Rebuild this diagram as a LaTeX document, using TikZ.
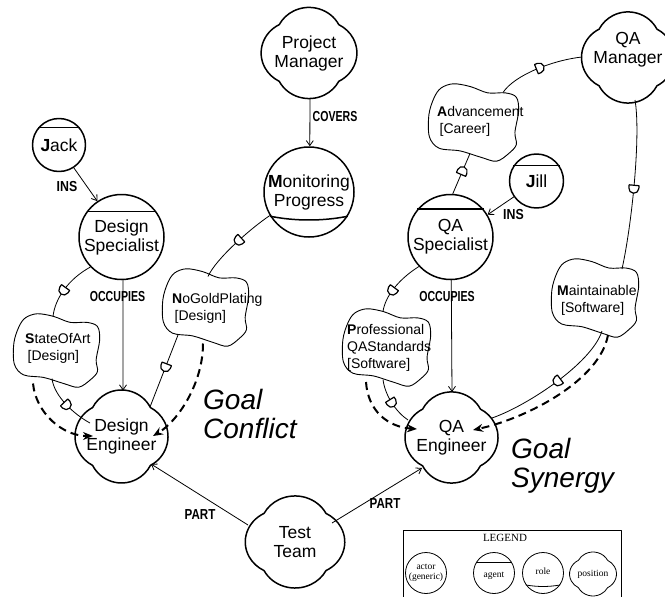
\documentclass[tikz,border=0pt]{standalone}
\usepackage{fontspec}
\setmainfont{Liberation Sans}
\newfontfamily\legserif{Liberation Serif}
\usepackage{graphicx}
\usetikzlibrary{arrows.meta,decorations.markings}
\newcommand{\nodefont}{\fontsize{17.5}{19}\selectfont}
\newcommand{\sgfont}{\fontsize{14}{17}\selectfont}
\newcommand{\labfont}{\fontsize{14.5}{15}\selectfont\bfseries}
\newcommand{\goalfont}{\fontsize{28}{29}\selectfont\itshape}
\newcommand{\legfont}{\legserif\fontsize{9.5}{9.5}\selectfont}
\newcommand{\narrow}[2]{\scalebox{#1}[1]{#2}}
\newcommand{\softgoal}[5]{%
  \node[inner sep=0pt, minimum width=#4*2pt, minimum height=#5*2pt] (#1) at (#2,#3) {};
  \draw[sgline, shift={(#2,#3)}, xscale=#4, yscale=#5] plot[smooth cycle, tension=0.55] coordinates {(-0.72,-0.87) (-0.45,-0.98) (-0.08,-0.91) (0.30,-0.75) (0.68,-0.75) (0.92,-0.64) (0.97,-0.29) (0.89,0.25) (0.92,0.56) (0.76,0.78) (0.49,0.98) (0.15,0.88) (-0.30,0.72) (-0.76,0.65) (-0.97,0.36) (-0.98,-0.20) (-0.87,-0.62)};}
\newcommand{\cloudline}[4]{%
  \draw[line width=#4, line join=round, shift={(#1.center)}, xscale=#2, yscale=#3] (28.93pt,28.93pt) arc[start angle=27.4,end angle=152.6,radius=32.57pt] arc[start angle=117.4,end angle=242.6,radius=32.57pt] arc[start angle=207.4,end angle=332.6,radius=32.57pt] arc[start angle=297.4,end angle=422.6,radius=32.57pt] -- cycle;}
\tikzset{
  nline/.style={line width=1.5pt},
  circ/.style={circle, draw, nline, inner sep=0pt, align=center, font=\nodefont},
  cloudnode/.style={circle, minimum size=93pt, inner sep=0pt, align=center, font=\nodefont},
  sgline/.style={line width=0.9pt},
  sgtext/.style={anchor=west, align=left, inner sep=0pt, font=\sgfont},
  link/.style={line width=0.8pt},
  arr/.style={link, -{Straight Barb[length=5pt,width=7pt]}},
  dasharr/.style={line width=2pt, dash pattern=on 8pt off 5pt, -{Stealth[length=10pt,width=8pt]}},
  dep/.style={link, postaction={decorate}, decoration={markings, mark=at position #1 with {\draw[line width=1.2pt, fill=white, solid] (-3pt,-5pt) -- (-3pt,5pt) -- (0pt,5pt) arc[start angle=90, end angle=-90, radius=5pt] -- cycle;}}},
  lab/.style={font=\labfont, inner sep=0pt},
  goal/.style={font=\goalfont, anchor=west, align=left, inner sep=0pt},
  legc/.style={circle, draw, line width=0.8pt, minimum size=41pt, inner sep=0pt, align=center, font=\legfont},
}
\begin{document}
\begin{tikzpicture}[x=1pt,y=-1pt,line join=round]
\useasboundingbox (0,0) rectangle (665,597);
\clip (0,0) rectangle (665,597);

% agents and roles
\node[circ, minimum size=53pt] (jack) at (59,145) {\textbf{J}ack};
\draw[nline] (jack.140) -- (jack.40);
\node[circ, minimum size=85pt] (ds) at (121.5,237) {Design\\Specialist};
\draw[nline] (ds.144) -- (ds.36);
\node[circ, minimum size=90pt] (mp) at (309,192) {\textbf{M}onitoring\\Progress};
\draw[nline] (mp.212) .. controls +(25,5) and +(-25,5) .. (mp.328);
\node[circ, minimum size=54pt] (jill) at (536.5,181) {\textbf{J}ill};
\draw[nline] (jill.146) -- (jill.34);
\node[circ, minimum size=85pt] (qas) at (450.5,237) {QA\\Specialist};
\draw[nline] (qas.140) -- (qas.40);

% positions
\node[cloudnode] (pm) at (309,53) {Project\\Manager};
\cloudline{pm}{1.03}{0.98}{1.5pt}
\node[cloudnode] (qam) at (628,57.5) {};
\cloudline{qam}{1.0}{0.98}{1.5pt}
\node[font=\nodefont, align=center] (qamt) at (628,50) {QA\\Manager};
\node[cloudnode] (de) at (121.5,436.5) {Design\\Engineer};
\cloudline{de}{1.0}{1.0}{1.5pt}
\node[cloudnode] (qae) at (451.5,437.5) {QA\\Engineer};
\cloudline{qae}{1.0}{0.98}{1.5pt}
\node[cloudnode] (tt) at (295,542) {Test\\Team};
\cloudline{tt}{1.07}{0.99}{1.5pt}

% softgoals
\softgoal{soa}{57}{350.5}{44}{37.5}
\node[sgtext] (soat) at (25,348.5) {\textbf{S}tateOfArt\\\hspace{2.5pt}[Design]};
\softgoal{ngp}{206}{307.5}{44}{39.5}
\node[sgtext] (ngpt) at (172,308) {\textbf{N}oGoldPlating\\\hspace{2.5pt}[Design]};
\softgoal{adv}{474}{122.5}{46}{39.5}
\node[sgtext] (advt) at (437,121) {\textbf{A}dvancement\\\hspace{2.5pt}[Career]};
\softgoal{pqa}{387}{347.5}{45}{39.5}
\node[sgtext] (pqat) at (347,347.5) {\textbf{P}rofessional\\QAStandards\\{}[Software]};
\softgoal{mnt}{595.5}{298}{44.5}{40}
\node[sgtext] (mntt) at (557,300.5) {\textbf{M}aintainable\\\hspace{4pt}[Software]};

% structural arrows
\draw[arr] ([shift={(1,45)}]pm.center) -- (mp.89);
\draw[arr] (jack.-57) -- (ds.124);
\draw[arr] (ds.-88) -- ([shift={(1.5,-46)}]de.center);
\draw[arr] (jill.215) -- (qas.31);
\draw[arr] (qas.-89) -- ([shift={(0.5,-45.5)}]qae.center);
\draw[arr] ([shift={(-47,-17)}]tt.center) -- ([shift={(29.5,27.5)}]de.center);
\draw[arr] ([shift={(37,-19)}]tt.center) -- ([shift={(-29.5,30.5)}]qae.center);

% dependency links
\draw[dep=0.55] (ds.224) .. controls +(-22,12) and +(2,-18) .. ([shift={(-4,-34)}]soa.center);
\draw[dep=0.5] ([shift={(-5,28)}]soa.center) .. controls +(2,18) and +(-15,-8) .. ([shift={(-31.5,-13.5)}]de.center);
\draw[dep=0.45] (mp.211) .. controls +(-18,12) and +(8,-18) .. ([shift={(2,-31)}]ngp.center);
\draw[dep=0.44] ([shift={(-28,27.5)}]ngp.center) -- ([shift={(28.5,-29.5)}]de.center);
\draw[dep=0.55] (qas.87) -- ([shift={(-4,31)}]adv.center);
\draw[dep=0.5] ([shift={(29,-30)}]adv.center) .. controls +(12,-18) and +(-28,3) .. ([shift={(-46,-0.5)}]qam.center);
\draw[dep=0.52] ([shift={(7,42.5)}]qam.center) .. controls +(6,35) and +(10,-45) .. ([shift={(26.5,-29)}]mnt.center);
\draw[dep=0.47] ([shift={(6.5,33)}]mnt.center) .. controls +(-10,32) and +(35,-12) .. ([shift={(40.5,-19.5)}]qae.center);
\draw[dep=0.6] (qas.223) .. controls +(-22,14) and +(2,-14) .. ([shift={(-4,-36)}]pqa.center);
\draw[dep=0.5] ([shift={(-4,32)}]pqa.center) .. controls +(2,16) and +(-12,-8) .. ([shift={(-43.5,-17.5)}]qae.center);

% goal contribution arrows
\draw[dasharr] ([shift={(-24,33)}]soa.center) .. controls +(3,30) and +(-30,0) .. ([shift={(-28.5,-0.5)}]de.center);
\draw[dasharr] ([shift={(-3,36)}]ngp.center) .. controls +(0,40) and +(25,-15) .. ([shift={(31.5,-0.5)}]de.center);
\draw[dasharr] ([shift={(-21,34.5)}]pqa.center) .. controls +(2,30) and +(-28,-2) .. ([shift={(-34.5,-8.5)}]qae.center);
\draw[dasharr] ([shift={(12.5,37)}]mnt.center) .. controls +(-8,45) and +(55,-12) .. ([shift={(21.5,-7.5)}]qae.center);

% labels
\node[lab] (l1) at (67,187) {\narrow{0.85}{INS}};
\node[lab] (l2) at (335,117) {\narrow{0.73}{COVERS}};
\node[lab] (l3) at (117.5,297) {\narrow{0.73}{OCCUPIES}};
\node[lab] (l4) at (447,297) {\narrow{0.73}{OCCUPIES}};
\node[lab] (l5) at (513.5,215) {\narrow{0.85}{INS}};
\node[lab] (l6) at (200,515) {\narrow{0.8}{PART}};
\node[lab] (l7) at (385,504) {\narrow{0.8}{PART}};
\node[goal] (gc) at (203,414) {Goal\\Conflict};
\node[goal] (gs) at (511,466) {Goal\\Synergy};

% legend
\draw[line width=0.8pt] (403,530) rectangle (621,640);
\node[font=\legserif\fontsize{11}{12}\selectfont, inner sep=0pt] (legt) at (505,538) {LEGEND};
\node[legc] (lact) at (426,573) {actor\\(generic)};
\node[legc] (lag) at (494,573) {};
\node[font=\legfont, inner sep=0pt] (lagt) at (494,576) {agent};
\draw[line width=0.8pt] (lag.151) -- (lag.29);
\node[legc] (lrole) at (543,573) {};
\node[font=\legfont, inner sep=0pt] (lrolet) at (543,571) {role};
\draw[line width=0.8pt] (lrole.215) .. controls +(12,2) and +(-12,2) .. (lrole.325);
\node[inner sep=0pt, minimum size=44pt, font=\legfont] (lpos) at (593,574) {position};
\cloudline{lpos}{0.505}{0.473}{0.8pt}
\end{tikzpicture}
\end{document}
